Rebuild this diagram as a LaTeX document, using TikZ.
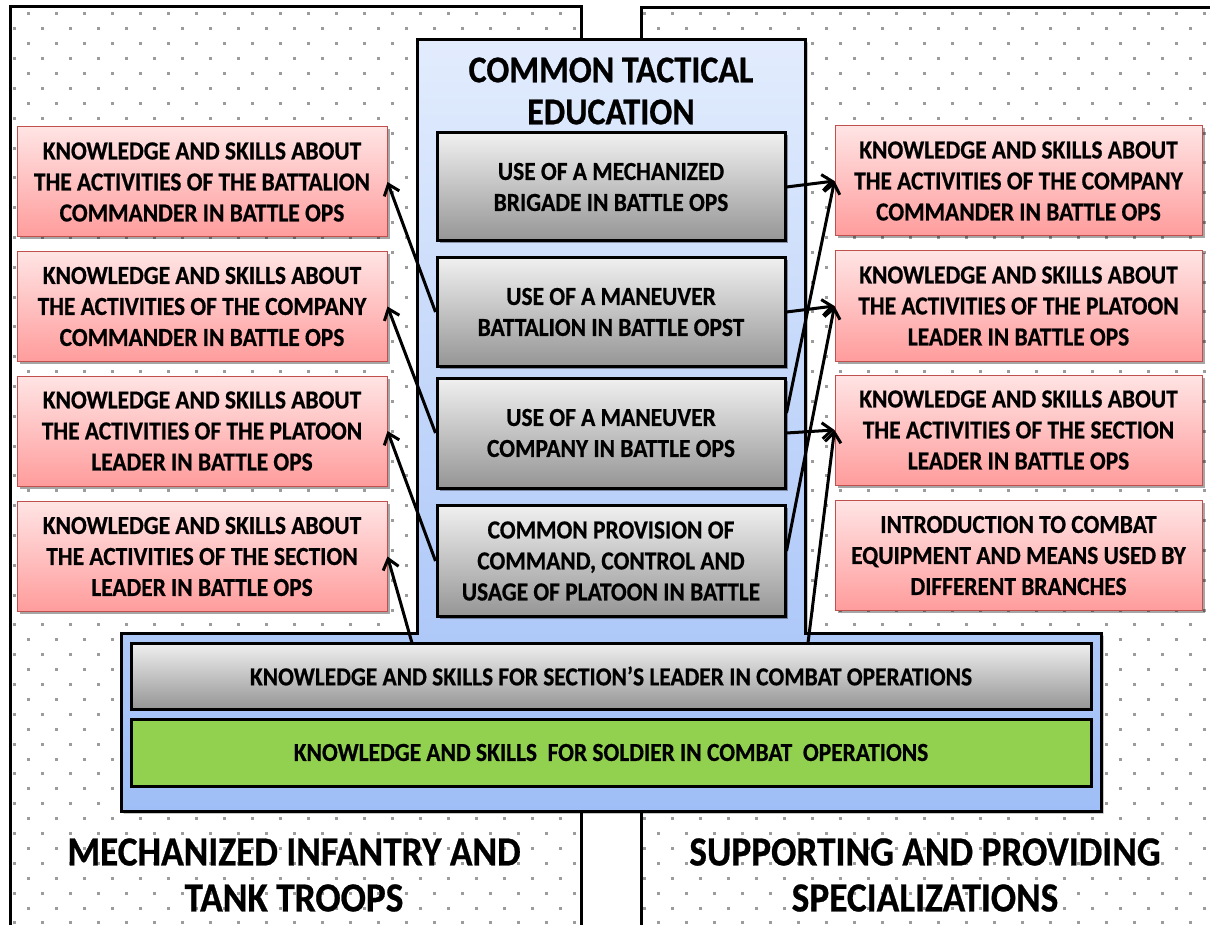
\documentclass[tikz,border=0pt]{standalone}
\usepackage{fontspec}
\setmainfont{Carlito}[FakeStretch=0.9,BoldFeatures={FakeBold=0.6}]
\usetikzlibrary{arrows.meta,shadows,calc}
\definecolor{dotgray}{HTML}{9C9C9C}
\definecolor{blueTop}{HTML}{E2ECFD}
\definecolor{blueBot}{HTML}{9FBEF7}
\definecolor{grayTop}{HTML}{F0F0F0}
\definecolor{grayBot}{HTML}{959595}
\definecolor{redTop}{HTML}{FFE4E4}
\definecolor{redBot}{HTML}{FF9C9C}
\definecolor{redLine}{HTML}{C0504D}
\definecolor{greenFill}{HTML}{92D050}
\begin{document}
\begin{tikzpicture}[x=1pt,y=-1pt,
  shad/.style={drop shadow={shadow xshift=2.5pt,shadow yshift=-2.5pt,opacity=0.35,fill=black}},
  redbox/.style={shad,draw=redLine,line width=1pt,top color=redTop,bottom color=redBot,
    minimum height=110pt,inner sep=0pt,align=center,
    font=\bfseries\fontsize{26}{31}\selectfont},
  graybox/.style={shad,draw=black,line width=3pt,top color=grayTop,bottom color=grayBot,
    minimum width=348pt,inner sep=0pt,align=center,
    font=\bfseries\fontsize{26}{31}\selectfont},
  barbox/.style={draw=black,line width=3pt,minimum width=960pt,inner sep=0pt,align=center,
    font=\bfseries\fontsize{26}{30}\selectfont},
  panel/.style={line width=3pt,draw=black},
  biglabel/.style={align=center,font=\bfseries\fontsize{41.5}{46}\selectfont},
  arr/.style={line width=3pt,-{Straight Barb[length=10pt,width=16pt]}}
]
\useasboundingbox (0,0) rectangle (1210,925);
\clip (0,0) rectangle (1210,925);
\fill[white] (0,0) rectangle (1210,925);
% dotted panels
\begin{scope}
\clip (10,7) rectangle (581,940) (641,8) rectangle (1230,940);
\foreach \i in {0,...,62}{
  \pgfmathsetmacro\yy{14+14.9*\i}
  \pgfmathsetmacro\xo{mod(\i,2)==0 ? 0 : 14}
  \foreach \j in {0,...,44}{
    \fill[dotgray] (\xo+28*\j-1.5,\yy-1.5) rectangle ++(3,3);
  }
}
\end{scope}
\draw[panel] (10,940) -- (10,7) -- (581,7) -- (581,940);
\draw[panel] (641,940) -- (641,8) -- (1230,8);
% container
\draw[shad,line width=3pt,top color=blueTop,bottom color=blueBot]
  (417,40) -- (805,40) -- (805,633) -- (1101,633) -- (1101,811) -- (121,811) -- (121,633) -- (417,633) -- cycle;
\node[align=center,font=\bfseries\fontsize{37.8}{42}\selectfont] (title) at (611,91) {COMMON TACTICAL\\EDUCATION};
% inner gray boxes
\node[graybox,minimum height=108pt] (brig) at (611,187) {USE OF A MECHANIZED\\BRIGADE IN BATTLE OPS};
\node[graybox,minimum height=109pt] (bat) at (611,312) {USE OF A MANEUVER\\BATTALION IN BATTLE OPST};
\node[graybox,minimum height=110pt] (comp) at (611,433) {USE OF A MANEUVER\\COMPANY IN BATTLE OPS};
\node[graybox,minimum height=111pt] (cp) at (611,561) {COMMON PROVISION OF\\COMMAND, CONTROL AND\\USAGE OF PLATOON IN BATTLE};
% bars
\node[barbox,top color=grayTop,bottom color=grayBot,minimum height=66pt] (sec) at (611,676) {KNOWLEDGE AND SKILLS FOR SECTION’S LEADER IN COMBAT OPERATIONS};
\node[barbox,fill=greenFill,minimum height=67pt] (sol) at (611,752.5) {KNOWLEDGE AND SKILLS~~FOR SOLDIER IN COMBAT~~OPERATIONS};
% left red boxes
\node[redbox,minimum width=370pt] (L1) at (202,182) {KNOWLEDGE AND SKILLS ABOUT\\THE ACTIVITIES OF THE BATTALION\\COMMANDER IN BATTLE OPS};
\node[redbox,minimum width=370pt] (L2) at (202,306.5) {KNOWLEDGE AND SKILLS ABOUT\\THE ACTIVITIES OF THE COMPANY\\COMMANDER IN BATTLE OPS};
\node[redbox,minimum width=370pt] (L3) at (202,431) {KNOWLEDGE AND SKILLS ABOUT\\THE ACTIVITIES OF THE PLATOON\\LEADER IN BATTLE OPS};
\node[redbox,minimum width=370pt] (L4) at (202,556.5) {KNOWLEDGE AND SKILLS ABOUT\\THE ACTIVITIES OF THE SECTION\\LEADER IN BATTLE OPS};
% right red boxes
\node[redbox,minimum width=367pt] (R1) at (1018.5,181) {KNOWLEDGE AND SKILLS ABOUT\\THE ACTIVITIES OF THE COMPANY\\COMMANDER IN BATTLE OPS};
\node[redbox,minimum width=367pt] (R2) at (1018.5,306) {KNOWLEDGE AND SKILLS ABOUT\\THE ACTIVITIES OF THE PLATOON\\LEADER IN BATTLE OPS};
\node[redbox,minimum width=367pt] (R3) at (1018.5,430) {KNOWLEDGE AND SKILLS ABOUT\\THE ACTIVITIES OF THE SECTION\\LEADER IN BATTLE OPS};
\node[redbox,minimum width=367pt] (R4) at (1018.5,555.5) {INTRODUCTION TO COMBAT\\EQUIPMENT AND MEANS USED BY\\DIFFERENT BRANCHES};
% bottom labels
\node[biglabel] (lab1) at (294,875) {MECHANIZED INFANTRY AND\\TANK TROOPS};
\node[biglabel] (lab2) at (925,875) {SUPPORTING AND PROVIDING\\SPECIALIZATIONS};
% arrows
\coordinate (sl1) at (412,643);
\coordinate (sl2) at (808,643);
\draw[arr] (bat.west) -- (L1.east);
\draw[arr] (comp.west) -- (L2.east);
\draw[arr] (cp.west) -- (L3.east);
\draw[arr] (sl1) -- (L4.east);
\draw[arr] (brig.east) -- (R1.west);
\draw[arr] ($(comp.east)+(0,-20)$) -- (R1.west);
\draw[arr] (bat.east) -- (R2.west);
\draw[arr] ($(cp.east)+(0,-10)$) -- (R2.west);
\draw[arr] (comp.east) -- (R3.west);
\draw[arr] (sl2) -- (R3.west);
\end{tikzpicture}
\end{document}
